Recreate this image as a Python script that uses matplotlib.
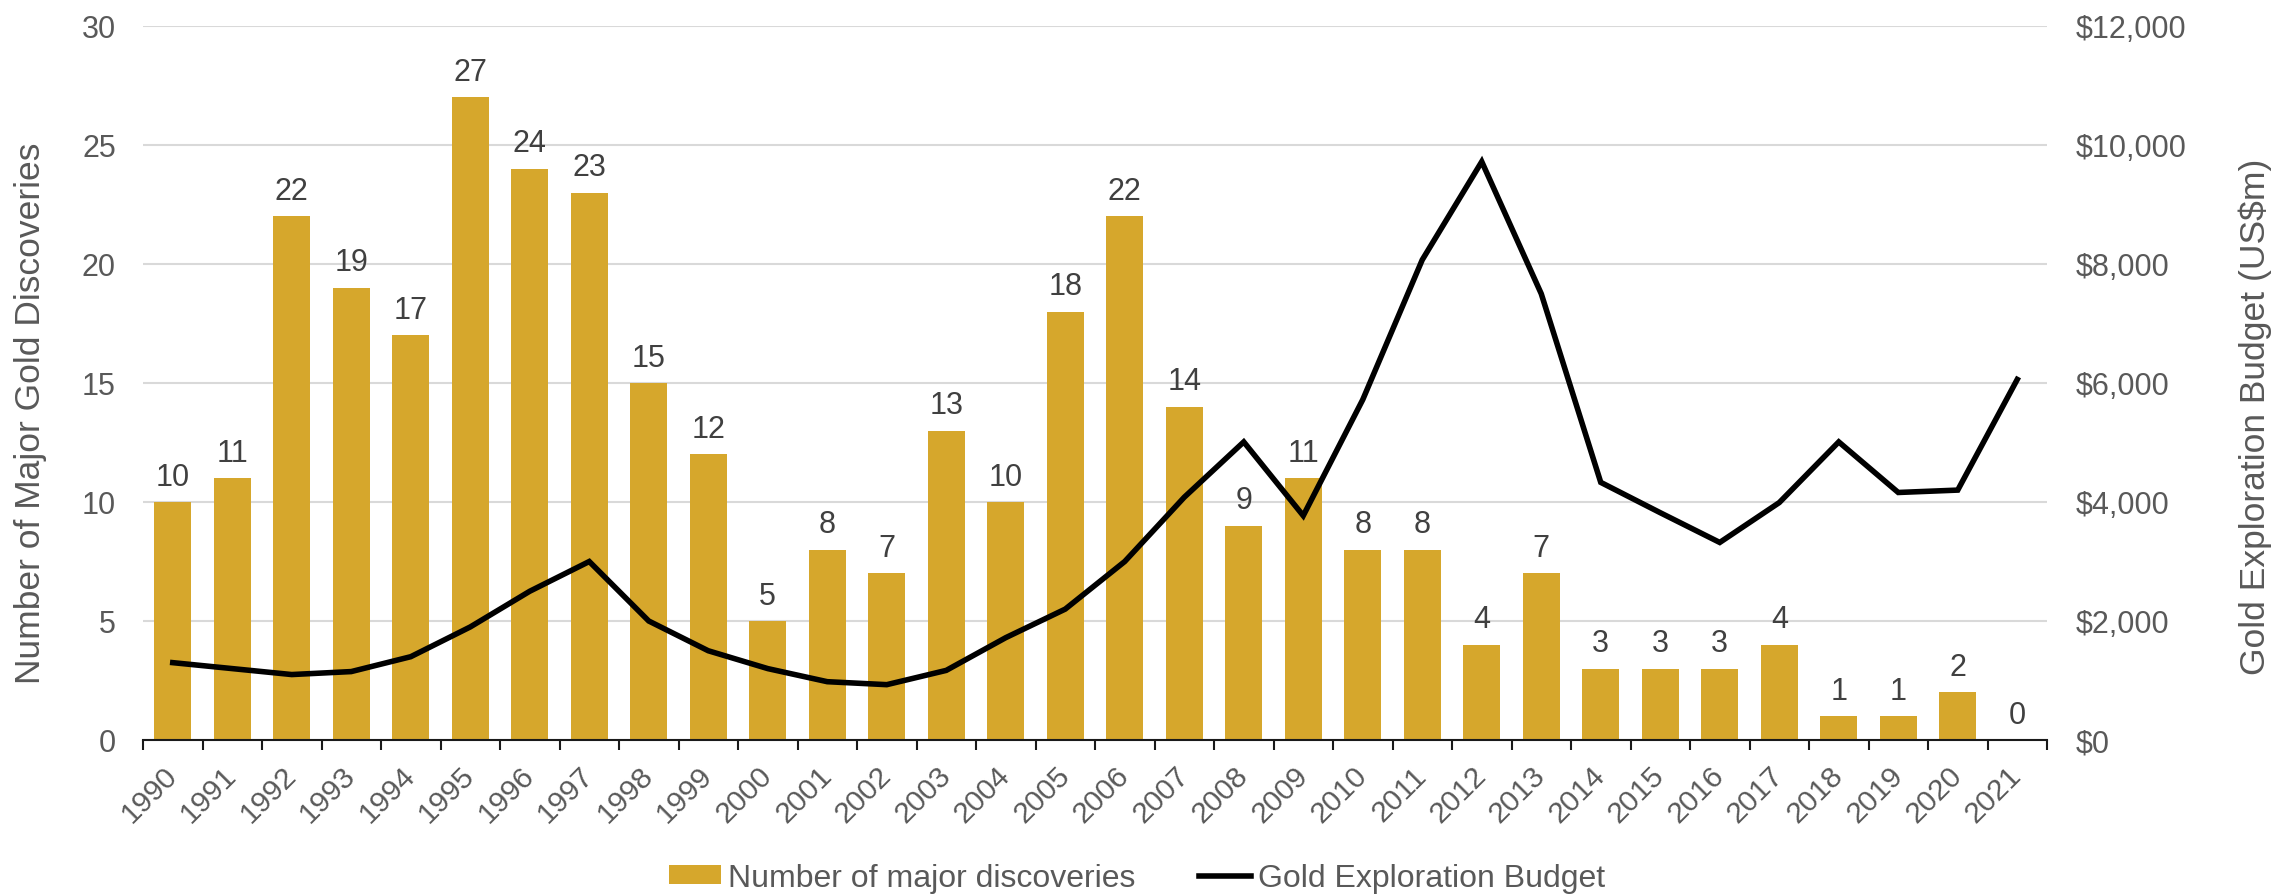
import numpy as np
import matplotlib.pyplot as plt
from matplotlib.patches import Patch
from matplotlib.lines import Line2D
from matplotlib.ticker import FuncFormatter

plt.rcParams['font.family'] = ['Liberation Sans', 'DejaVu Sans']

years = list(range(1990, 2022))
discoveries = [10, 11, 22, 19, 17, 27, 24, 23, 15, 12, 5, 8, 7, 13, 10, 18, 22, 14,
               9, 11, 8, 8, 4, 7, 3, 3, 3, 4, 1, 1, 2, 0]
budget = [1300, 1200, 1100, 1150, 1400, 1900, 2500, 3000, 2000, 1500, 1200, 980, 930,
          1170, 1720, 2200, 3000, 4080, 5010, 3770, 5720, 8070, 9720, 7500, 4330, 3820,
          3320, 3990, 5010, 4160, 4200, 6060]

gold = '#D6A72C'
grey = '#595959'
W, H = 2274, 895

fig = plt.figure(figsize=(W / 100, H / 100), dpi=100)
ax = fig.add_axes([143 / W, 1 - 741 / H, (2047 - 143) / W, (741 - 27) / H])
x = np.arange(len(years))

ax.bar(x, discoveries, width=0.62, color=gold, zorder=2)
for xi, v in zip(x, discoveries):
    ax.annotate(str(v), (xi, v), xytext=(0, 7.5), textcoords='offset points',
                ha='center', va='bottom', fontsize=22, color='#404040')

ax.set_xlim(-0.5, len(years) - 0.5)
ax.set_ylim(0, 30)
ax.set_yticks(range(0, 31, 5))
ax.yaxis.grid(True, color='#D9D9D9', lw=1.5, zorder=0)
ax.set_axisbelow(True)
for s in ['top', 'right', 'left']:
    ax.spines[s].set_visible(False)
ax.spines['bottom'].set_color('#1a1a1a')
ax.spines['bottom'].set_linewidth(1.5)

ax.set_xticks(x)
ax.set_xticklabels([str(y) for y in years], rotation=45, ha='right', va='center',
                   rotation_mode='anchor', fontsize=21.5, color=grey)
ax.tick_params(axis='x', which='major', length=0, pad=22)
ax.set_xticks(np.arange(-0.5, len(years), 1), minor=True)
ax.tick_params(axis='x', which='minor', length=7, width=1.5, color='#1a1a1a')
ax.tick_params(axis='y', length=0, labelsize=22, labelcolor=grey, pad=19.5)

ax2 = ax.twinx()
ax2.plot(x, budget, color='black', lw=4, zorder=3, solid_joinstyle='miter')
ax2.set_ylim(0, 12000)
ax2.set_yticks(range(0, 12001, 2000))
ax2.yaxis.set_major_formatter(FuncFormatter(lambda v, p: f'${v:,.0f}'))
ax2.tick_params(axis='y', length=0, labelsize=22, labelcolor=grey, pad=21)
for s in ['top', 'right', 'left', 'bottom']:
    ax2.spines[s].set_visible(False)

fig.text(31 / W, 1 - 413 / H, 'Number of Major Gold Discoveries', rotation=90,
         ha='center', va='center', fontsize=25.5, color=grey)
fig.text(2255 / W, 1 - 417 / H, 'Gold Exploration Budget (US$m)', rotation=90,
         ha='center', va='center', fontsize=25.5, color=grey)

handles = [Patch(facecolor=gold, label='Number of major discoveries'),
           Line2D([0], [0], color='black', lw=4, label='Gold Exploration Budget')]
fig.legend(handles=handles, loc='center', bbox_to_anchor=(0.5, 1 - 879 / H), ncol=2,
           frameon=False, fontsize=23, labelcolor=grey, handlelength=1.63,
           handleheight=0.55, handletextpad=0.2, columnspacing=2.0,
           borderpad=0, borderaxespad=0)

fig.savefig('out.png', dpi=100)
